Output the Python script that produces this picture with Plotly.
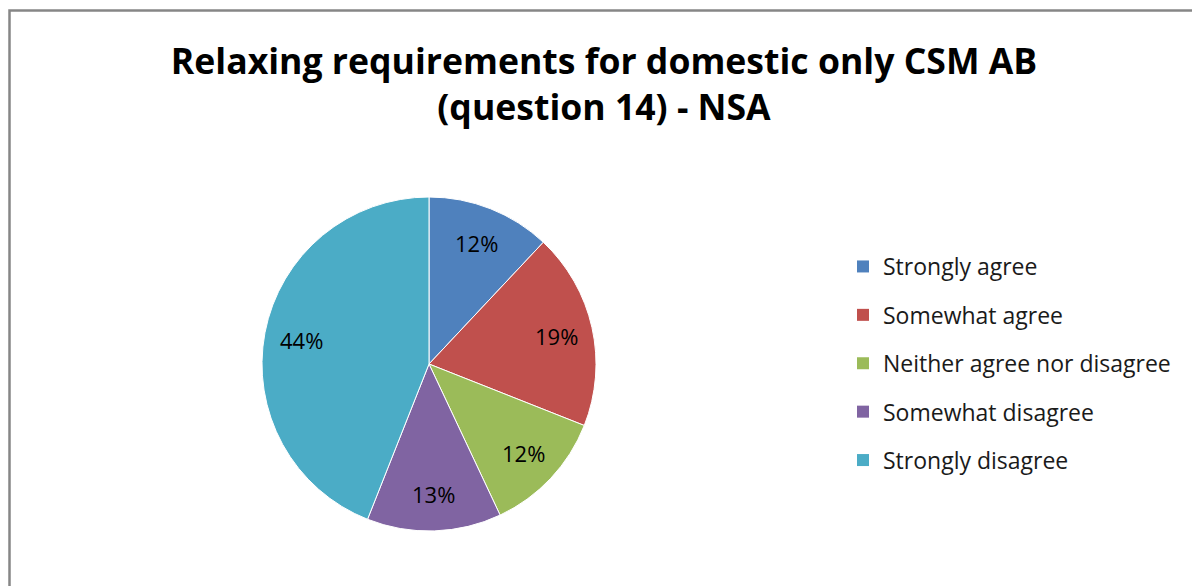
import math
import plotly.graph_objects as go

categories = ["Strongly agree", "Somewhat agree", "Neither agree nor disagree",
              "Somewhat disagree", "Strongly disagree"]
values = [12, 19, 12, 13, 44]
colors = ["#4F81BD", "#C0504D", "#9BBB59", "#8064A2", "#4BACC6"]

W, H = 1192, 586
font_family = "'Open Sans', sans-serif"

fig = go.Figure()

# pie: centre (429, 364) px, radius 167 px
cx, cy, r = 429, 364, 167
fig.add_trace(go.Pie(
    labels=categories,
    values=values,
    marker=dict(colors=colors, line=dict(color="white", width=1)),
    sort=False,
    direction="clockwise",
    rotation=0,
    textinfo="none",
    showlegend=False,
    hoverinfo="label+percent",
    domain=dict(x=[(cx - r) / W, (cx + r) / W],
                y=[1 - (cy + r) / H, 1 - (cy - r) / H]),
))

# percentage labels at 78% of the radius along each slice's mid-angle
total = sum(values)
annotations = []
cum = 0
for v in values:
    mid = (cum + v / 2) / total * 2 * math.pi
    cum += v
    px = cx + 0.78 * r * math.sin(mid)
    py = cy - 0.78 * r * math.cos(mid)
    annotations.append(dict(
        x=px / W, y=1 - py / H, xref="paper", yref="paper",
        text=f"{round(v / total * 100)}%", showarrow=False,
        xanchor="center", yanchor="middle",
        font=dict(family=font_family, size=22, color="black"),
    ))

# legend entries, one group per category
for name, col in zip(categories, colors):
    fig.add_trace(go.Scatter(
        x=[None], y=[None], mode="markers", name=name, legendgroup=name,
        marker=dict(symbol="square", size=14, color=col),
        hoverinfo="skip",
    ))

fig.update_layout(
    width=W, height=H,
    margin=dict(l=0, r=0, t=0, b=0),
    paper_bgcolor="white", plot_bgcolor="white",
    xaxis=dict(visible=False), yaxis=dict(visible=False),
    title=dict(
        text="<b>Relaxing requirements for domestic only CSM AB<br>"
             "<span style='line-height:1.4'>(question 14) - NSA</span></b>",
        x=604 / W, xanchor="center", y=1 - 74 / H, yanchor="top",
        font=dict(family=font_family, size=35.6, color="black"),
    ),
    legend=dict(
        x=843 / W, xanchor="left", y=1 - 245 / H, yanchor="top",
        font=dict(family=font_family, size=23, color="#1a1a1a"),
        tracegroupgap=15.5, itemsizing="constant",
        bgcolor="rgba(0,0,0,0)",
    ),
    annotations=annotations,
    shapes=[dict(
        type="rect", xref="paper", yref="paper",
        x0=9.5 / W, x1=1.02, y0=-0.02, y1=1 - 10.5 / H,
        line=dict(color="#868686", width=2.5), fillcolor="rgba(0,0,0,0)",
    )],
)

fig.write_html("out.html")
